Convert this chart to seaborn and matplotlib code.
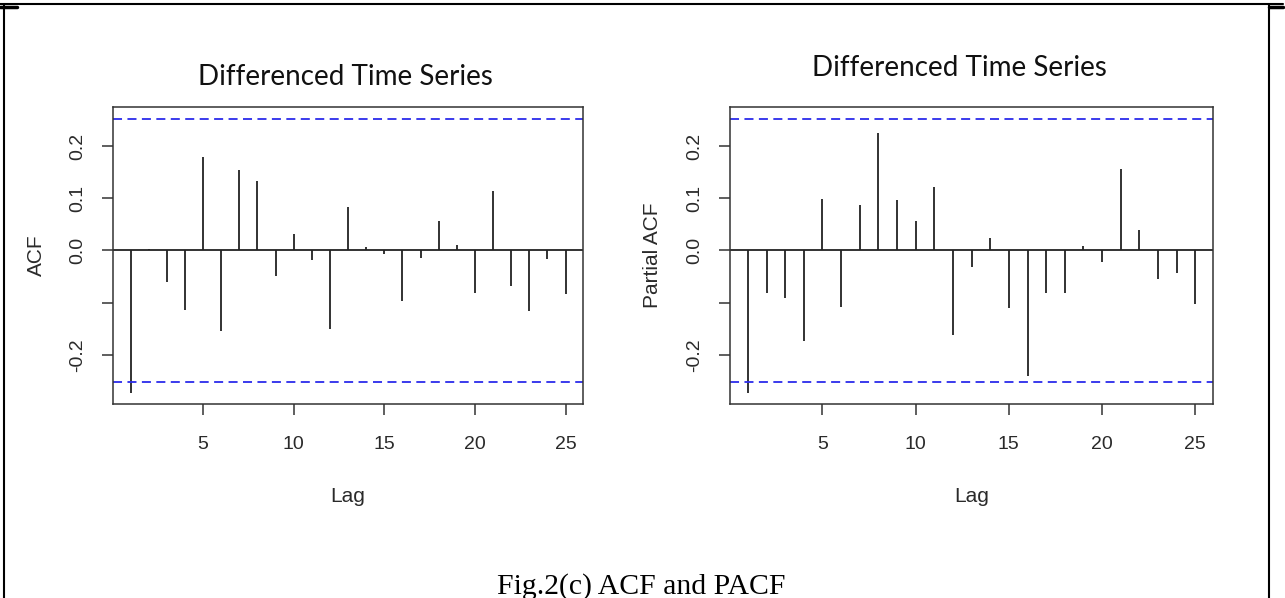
import numpy as np
import matplotlib
matplotlib.use("Agg")
import matplotlib.pyplot as plt
import seaborn as sns
from matplotlib.lines import Line2D

# values
lags = list(range(1, 26))
acf_vals = [-0.273, 0.003, -0.061, -0.114, 0.179, -0.154, 0.154, 0.133, -0.049, 0.031,
            -0.019, -0.151, 0.084, 0.007, -0.006, -0.096, -0.014, 0.056, 0.011, -0.081,
            0.114, -0.068, -0.116, -0.017, -0.084]
pacf_vals = [-0.273, -0.081, -0.091, -0.173, 0.098, -0.109, 0.086, 0.224, 0.096, 0.056,
             0.121, -0.162, -0.031, 0.024, -0.111, -0.241, -0.081, -0.081, 0.009, -0.022,
             0.156, 0.039, -0.054, -0.043, -0.103]
conf_bound = 0.251
x_ticks = [5, 10, 15, 20, 25]
y_ticks = [-0.2, -0.1, 0.0, 0.1, 0.2]
y_tick_labels = ["-0.2", "", "0.0", "0.1", "0.2"]
panel_title = "Differenced Time Series"
caption = "Fig.2(c) ACF and PACF"

sns.set_theme(style="white")
plt.rcParams["font.family"] = ["Liberation Sans", "DejaVu Sans"]

fig = plt.figure(figsize=(12.85, 5.98), dpi=100)
ax1 = fig.add_axes([0.0881, 0.3244, 0.3656, 0.4962])
ax2 = fig.add_axes([0.5681, 0.3244, 0.3760, 0.4962])


def spike_panel(ax, vals, ylabel):
    ax.vlines(lags, 0, vals, color="#222222", linewidth=1.3)
    ax.axhline(0, color="#222222", linewidth=1.3)
    for b in (conf_bound, -conf_bound):
        ax.axhline(b, color="#2b2bea", linewidth=1.3, linestyle=(0, (5, 3)))
    ax.set_xlim(0.04, 25.96)
    ax.set_ylim(-0.294, 0.274)
    ax.set_xticks(x_ticks)
    ax.set_yticks(y_ticks)
    ax.set_yticklabels(y_tick_labels, rotation=90, va="center")
    ax.tick_params(direction="out", length=8, width=1.1, color="#333333",
                   labelsize=14, labelcolor="#2a2a2a", bottom=True, left=True)
    ax.tick_params(axis="y", pad=11.5)
    ax.tick_params(axis="x", pad=15)
    for s in ax.spines.values():
        s.set_color("#333333")
        s.set_linewidth(1.1)
    ax.set_xlabel("Lag", fontsize=15, color="#2a2a2a", labelpad=24.5)
    ax.set_ylabel(ylabel, fontsize=15, color="#2a2a2a", labelpad=17)


spike_panel(ax1, acf_vals, "ACF")
spike_panel(ax2, pacf_vals, "Partial ACF")

fig.text(0.2685, 0.8717, panel_title, ha="center", va="center",
         fontsize=20, family=["Lato", "DejaVu Sans"], color="#111111")
fig.text(0.747, 0.8858, panel_title, ha="center", va="center",
         fontsize=20, family=["Lato", "DejaVu Sans"], color="#111111")
fig.text(0.4988, 0.0067, caption, ha="center", va="baseline",
         fontsize=21.4, family=["Liberation Serif", "DejaVu Serif"], color="black")

# page frame around the figure
fig.add_artist(Line2D([0, 0.9985], [0.9933, 0.9933], transform=fig.transFigure, color="black", lw=1.5))
fig.add_artist(Line2D([0.0031, 0.0031], [0, 0.9933], transform=fig.transFigure, color="black", lw=1.5))
fig.add_artist(Line2D([0.9875, 0.9875], [0, 0.9933], transform=fig.transFigure, color="black", lw=1.5))
fig.add_artist(Line2D([0, 0.013], [0.989, 0.989], transform=fig.transFigure, color="black", lw=2.5))
fig.add_artist(Line2D([0.9875, 0.9985], [0.989, 0.989], transform=fig.transFigure, color="black", lw=2.5))

fig.savefig("out.png", dpi=100)
